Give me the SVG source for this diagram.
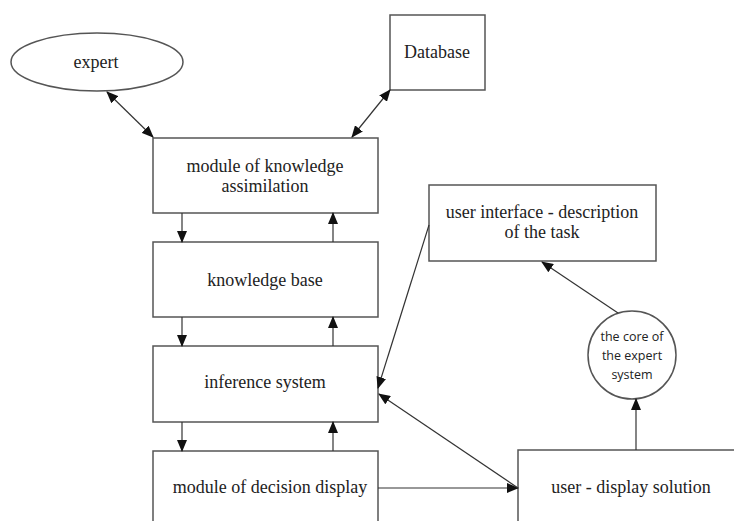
<svg xmlns="http://www.w3.org/2000/svg" width="734" height="521" viewBox="0 0 734 521">
<style>
.box{fill:#fff;stroke:#555;stroke-width:1.5}
.t{font-family:'Liberation Serif','Times New Roman','DejaVu Serif',serif;font-size:18px;fill:#222;text-anchor:middle}
.s{font-family:'Open Sans','Noto Sans',sans-serif;font-size:12.5px;fill:#222;text-anchor:middle}
.c{stroke:#333;stroke-width:1.2;fill:none}
</style>
<defs>
<marker id="ah" markerWidth="12" markerHeight="10" refX="11" refY="5" orient="auto" markerUnits="userSpaceOnUse">
<path d="M0,0 L12,5 L0,10 Z" fill="#111"/>
</marker>
<marker id="as" markerWidth="12" markerHeight="10" refX="1" refY="5" orient="auto" markerUnits="userSpaceOnUse">
<path d="M12,0 L0,5 L12,10 Z" fill="#111"/>
</marker>
</defs>
<rect width="734" height="521" fill="#fff"/>
<g id="expert"><ellipse class="box" cx="97" cy="62" rx="86" ry="29"/><text class="t" x="96" y="68">expert</text></g>
<g id="database"><rect class="box" x="390" y="15" width="95" height="75"/><text class="t" x="437" y="58">Database</text></g>
<g id="assimilation"><rect class="box" x="153" y="138" width="225" height="75"/><text class="t" x="265" y="172">module of knowledge</text><text class="t" x="265" y="192">assimilation</text></g>
<g id="kb"><rect class="box" x="153" y="242" width="225" height="75"/><text class="t" x="265" y="286">knowledge base</text></g>
<g id="inference"><rect class="box" x="153" y="346" width="225" height="76"/><text class="t" x="265" y="388">inference system</text></g>
<g id="decision"><rect class="box" x="153" y="451" width="225" height="80"/><text class="t" x="270" y="493">module of decision display</text></g>
<g id="ui"><rect class="box" x="429" y="185" width="227" height="76"/><text class="t" x="542" y="218">user interface - description</text><text class="t" x="542" y="238">of the task</text></g>
<g id="core"><circle class="box" cx="632" cy="355" r="44"/><text class="s" x="632" y="341">the core of</text><text class="s" x="632" y="360">the expert</text><text class="s" x="632" y="379">system</text></g>
<g id="user"><rect class="box" x="518" y="450" width="225" height="80"/><text class="t" x="631" y="493">user - display solution</text></g>
<g id="connectors">
<line class="c" x1="107" y1="92" x2="153" y2="137" marker-start="url(#as)" marker-end="url(#ah)"/>
<line class="c" x1="390" y1="90" x2="352" y2="137" marker-start="url(#as)" marker-end="url(#ah)"/>
<line class="c" x1="182" y1="213" x2="182" y2="242" marker-end="url(#ah)"/>
<line class="c" x1="333" y1="242" x2="333" y2="213" marker-end="url(#ah)"/>
<line class="c" x1="182" y1="317" x2="182" y2="346" marker-end="url(#ah)"/>
<line class="c" x1="333" y1="346" x2="333" y2="317" marker-end="url(#ah)"/>
<line class="c" x1="182" y1="422" x2="182" y2="451" marker-end="url(#ah)"/>
<line class="c" x1="333" y1="451" x2="333" y2="422" marker-end="url(#ah)"/>
<line class="c" x1="378" y1="488" x2="518" y2="488" marker-end="url(#ah)"/>
<line class="c" x1="518" y1="488" x2="379" y2="394" marker-end="url(#ah)"/>
<line class="c" x1="429" y1="225" x2="378" y2="388" marker-end="url(#ah)"/>
<line class="c" x1="618" y1="313" x2="542" y2="262" marker-end="url(#ah)"/>
<line class="c" x1="636" y1="450" x2="636" y2="399" marker-end="url(#ah)"/>
</g>
</svg>
